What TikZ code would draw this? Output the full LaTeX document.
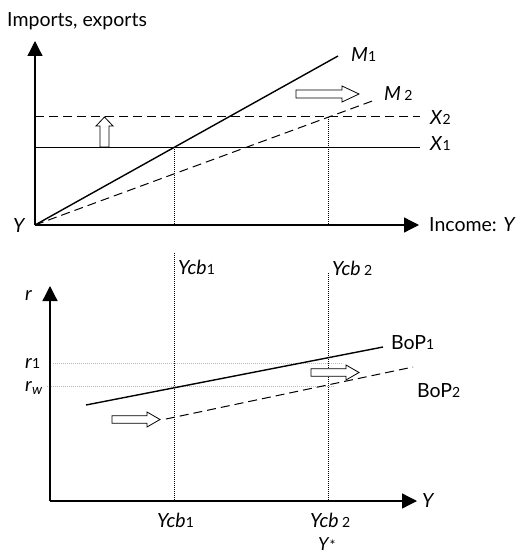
\documentclass[tikz,border=0pt]{standalone}
\usepackage{fontspec}
\setmainfont{Lato}
\usetikzlibrary{arrows.meta}
\newcommand\dg[1]{{\fontsize{14}{14}\selectfont #1}}
\newcommand\rarr[5]{% x0, x1, y, head length, head half width
  \draw[oarrow] (#1,#3-#5/2) -- (#2-#4,#3-#5/2) -- (#2-#4,#3-#5) -- (#2,#3) -- (#2-#4,#3+#5) -- (#2-#4,#3+#5/2) -- (#1,#3+#5/2) -- cycle;}
\begin{document}
\begin{tikzpicture}[x=1pt,y=-1pt,
 lbl/.style={anchor=base west, inner sep=0pt, font=\fontsize{19.5}{22}\selectfont},
 ax/.style={line width=1.3pt, -{Triangle[width=15pt,length=15pt]}},
 curve/.style={line width=1.4pt},
 thin/.style={line width=0.9pt},
 dsh/.style={line width=1pt, dash pattern=on 9pt off 5pt},
 dotv/.style={line width=0.7pt, dash pattern=on 0.8pt off 1.2pt},
 dotg/.style={line width=0.7pt, gray!55, dash pattern=on 0.8pt off 1.2pt},
 oarrow/.style={draw, fill=white, line width=0.8pt}]
\useasboundingbox (0,0) rectangle (520,553);
% ---------- top chart ----------
\coordinate (O1) at (35,225);
\coordinate (T1) at (35,41);
\coordinate (R1) at (419,225);
\coordinate (X1a) at (35,147);
\coordinate (X1b) at (420,147);
\coordinate (X2a) at (35,117);
\coordinate (X2b) at (420,117);
\coordinate (M1e) at (338,56);
\coordinate (M2e) at (375,100);
\coordinate (P1) at (174,147);
\coordinate (P1b) at (174,225);
\coordinate (P2) at (328,117);
\coordinate (P2b) at (328,225);
\draw[ax] (O1) -- (T1);
\draw[ax] (O1) -- (R1);
\draw[thin] (X1a) -- (X1b);
\draw[dsh] (X2a) -- (X2b);
\draw[curve] (O1) -- (M1e);
\draw[dsh] (O1) -- (M2e);
\draw[dotv] (P1) -- (P1b);
\draw[dotv] (P2) -- (P2b);
% up arrow
\draw[oarrow] (100,147) -- (100,126) -- (96,126) -- (104.5,117) -- (113,126) -- (109,126) -- (109,147) -- cycle;
\rarr{296}{359}{94}{17}{8}
\node[lbl] (imp) at (7,27) {Imports, exports};
\node[lbl] (inc) at (429,231) {Income: \textit{Y}};
\node[lbl] (y0) at (13,232) {\textit{Y}};
\node[lbl] (m1) at (351,62) {\textit{M}\dg{1}};
\node[lbl] (m2) at (384,101) {\textit{M}\,\dg{2}};
\node[lbl] (x2) at (430,125) {\textit{X}\dg{2}};
\node[lbl] (x1) at (430,151) {\textit{X}\dg{1}};
% ---------- bottom chart ----------
\coordinate (O2) at (50,501);
\coordinate (T2) at (50,286);
\coordinate (R2) at (417,501);
\coordinate (V1t) at (174,253);
\coordinate (V1b) at (174,501);
\coordinate (V2t) at (328,273);
\coordinate (V2b) at (328,501);
\coordinate (R1a) at (53,363);
\coordinate (R1b) at (343,363);
\coordinate (Rwa) at (47,386);
\coordinate (Rwb) at (335,386);
\coordinate (B1a) at (86,405);
\coordinate (B1b) at (383,347);
\coordinate (B2a) at (166,419);
\coordinate (B2b) at (413,367);
\draw[dotg] (R1a) -- (R1b);
\draw[dotg] (Rwa) -- (Rwb);
\draw[dotv] (V1t) -- (V1b);
\draw[dotv] (V2t) -- (V2b);
\draw[ax] (O2) -- (T2);
\draw[ax] (O2) -- (R2);
\draw[curve] (B1a) -- (B1b);
\draw[dsh] (B2a) -- (B2b);
\rarr{112}{160}{419.5}{13}{7.5}
\rarr{311}{359}{372.5}{13}{7.5}
\node[lbl] (r) at (25,300) {\textit{r}};
\node[lbl] (r1) at (25,368) {\textit{r}\dg{1}};
\node[lbl] (rw) at (25,391) {\textit{r}$_{\textit{\fontsize{14}{14}\selectfont w}}$};
\node[lbl] (ycb1t) at (178,274) {\textit{Ycb}\dg{1}};
\node[lbl] (ycb2t) at (332,275) {\textit{Ycb}\,\dg{2}};
\node[lbl] (bop1) at (391,349) {BoP\dg{1}};
\node[lbl] (bop2) at (417,397) {BoP\dg{2}};
\node[lbl] (yax) at (422,507) {\textit{Y}};
\node[lbl] (ycb1b) at (157,527) {\textit{Ycb}\dg{1}};
\node[lbl] (ycb2b) at (310,527) {\textit{Ycb}\,\dg{2}};
\node[lbl, font=\fontsize{18}{20}\selectfont] (ystar) at (318,550) {\textit{Y}\dg{*}};
\end{tikzpicture}
\end{document}
